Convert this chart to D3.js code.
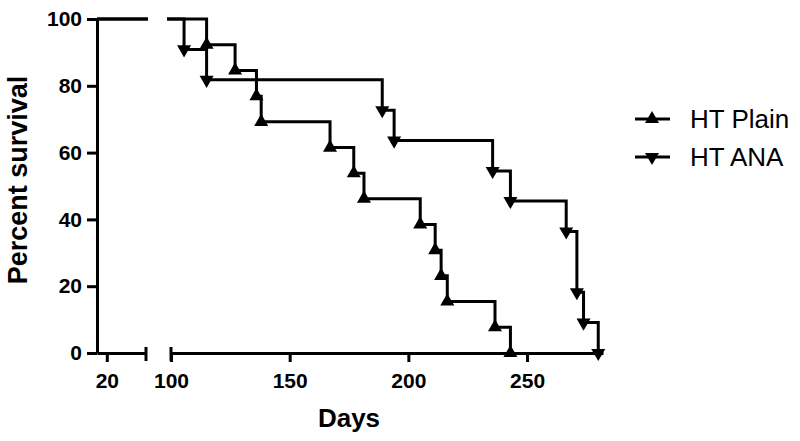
<!DOCTYPE html>
<html>
<head>
<meta charset="utf-8">
<script src="https://cdn.jsdelivr.net/npm/d3@7"></script>
<style>
  body { margin: 0; background: #fff; }
  text { font-family: "Liberation Sans", Arial, sans-serif; fill: #000; }
  .axis path, .axis line { stroke: #000; stroke-width: 3; }
  .axis text { font-size: 21px; font-weight: bold; }
</style>
</head>
<body>
<svg id="chart" width="800" height="441"></svg>
<script>
// survival data (days, percent)
var plainDays = [115, 127, 136, 138, 167, 177, 181.3, 205, 211.3, 213.8, 216.4, 236.5, 243];
var plainSurv = [92.3, 84.6, 76.9, 69.2, 61.5, 53.8, 46.2, 38.5, 30.8, 23.1, 15.4, 7.7, 0];
var anaDays = [105.5, 115, 189, 194, 235.5, 243, 266.5, 271, 273.8, 280];
var anaSurv = [90.9, 81.8, 72.7, 63.6, 54.5, 45.5, 36.4, 18.2, 9.1, 0];
var seriesNames = ['HT Plain', 'HT ANA'];
var yTicks = [0, 20, 40, 60, 80, 100];
var xTicksA = [20];
var xTicksB = [100, 150, 200, 250];

var svg = d3.select('#chart');

var y = d3.scaleLinear().domain([0, 100]).range([353, 19]);
var xA = d3.scaleLinear().domain([16, 36]).range([97, 146]);
var xB = d3.scaleLinear().domain([100, 282]).range([171, 603]);

var yAxis = d3.axisLeft(y).tickValues(yTicks).tickSize(10).tickSizeOuter(0).tickPadding(5);
svg.append('g').attr('class', 'axis')
   .attr('transform', 'translate(' + xA.range()[0] + ',0)')
   .call(yAxis);

// broken x axis, two segments
var xAxisA = d3.axisBottom(xA).tickValues(xTicksA).tickSize(9).tickSizeOuter(0).tickPadding(11);
var gA = svg.append('g').attr('class', 'axis')
   .attr('transform', 'translate(0,' + y(0) + ')')
   .call(xAxisA);
gA.append('line').attr('x1', xA.range()[1]).attr('x2', xA.range()[1]).attr('y1', -6).attr('y2', 8);

var xAxisB = d3.axisBottom(xB).tickValues(xTicksB).tickSize(9).tickSizeOuter(0).tickPadding(11);
var gB = svg.append('g').attr('class', 'axis')
   .attr('transform', 'translate(0,' + y(0) + ')')
   .call(xAxisB);
gB.append('line').attr('x1', xB.range()[0]).attr('x2', xB.range()[0]).attr('y1', -6).attr('y2', 8);

// titles
svg.append('text')
   .attr('transform', 'translate(27,180) rotate(-90)')
   .attr('text-anchor', 'middle')
   .style('font-size', '27px').style('font-weight', 'bold')
   .text('Percent survival');
svg.append('text')
   .attr('x', 349).attr('y', 427)
   .attr('text-anchor', 'middle')
   .style('font-size', '26px').style('font-weight', 'bold')
   .text('Days');

var triUp = d3.symbol().type(d3.symbolTriangle).size(85);

function drawSeries(days, surv, down) {
  // first segment: everyone alive
  svg.append('line')
     .attr('x1', xA.range()[0]).attr('x2', xA.range()[1] + 2)
     .attr('y1', y(100)).attr('y2', y(100))
     .attr('stroke', '#000').attr('stroke-width', 3);

  var pts = [[xB.invert(xB.range()[0] - 4), 100]];
  days.forEach(function(d, i) { pts.push([d, surv[i]]); });
  var line = d3.line()
     .x(function(d) { return xB(d[0]); })
     .y(function(d) { return y(d[1]); })
     .curve(d3.curveStepAfter);
  svg.append('path').datum(pts)
     .attr('d', line)
     .attr('fill', 'none').attr('stroke', '#000')
     .attr('stroke-width', 3).attr('stroke-linejoin', 'miter');

  svg.selectAll(null).data(pts.slice(1)).enter()
     .append('path')
     .attr('d', triUp)
     .attr('fill', '#000')
     .attr('transform', function(d) {
        return 'translate(' + xB(d[0]) + ',' + y(d[1]) + ')' + (down ? ' rotate(180)' : '');
     });
}

drawSeries(plainDays, plainSurv, false);
drawSeries(anaDays, anaSurv, true);

// legend
var legY = [119, 157];
seriesNames.forEach(function(name, i) {
  var g = svg.append('g').attr('transform', 'translate(0,' + legY[i] + ')');
  g.append('line').attr('x1', 635).attr('x2', 670).attr('y1', 0).attr('y2', 0)
   .attr('stroke', '#000').attr('stroke-width', 3);
  g.append('path').attr('d', triUp).attr('fill', '#000')
   .attr('transform', 'translate(652,0)' + (i === 1 ? ' rotate(180)' : ''));
  g.append('text').attr('x', 690).attr('y', 0).attr('dy', '0.36em')
   .style('font-size', '26px')
   .text(name);
});
</script>
</body>
</html>
